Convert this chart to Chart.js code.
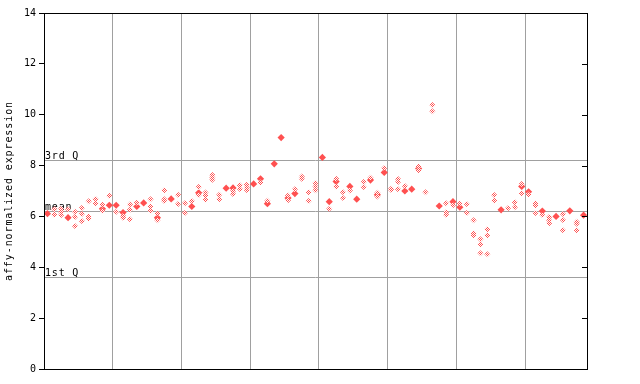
<!DOCTYPE html>
<html>
<head>
<meta charset="utf-8">
<script src="https://cdn.jsdelivr.net/npm/chart.js@4"></script>
<style>
  html, body { margin: 0; padding: 0; background: #fff; }
  #wrap { width: 640px; height: 384px; }
</style>
</head>
<body>
<div id="wrap"><canvas id="chart"></canvas></div>
<script>
// one entry per sample column (x = index + 0.5)
const solidVals = [
  6.11, null, null, 5.95, null, null, null, null, 6.3, 6.44,
  6.44, 6.15, null, 6.39, 6.53, null, 5.95, null, 6.69, null,
  null, 6.39, 6.93, null, null, null, 7.11, 7.12, null, null,
  7.28, 7.48, 6.5, 8.07, 9.1, 6.72, 6.9, null, null, null,
  8.32, 6.58, 7.37, null, 7.18, 6.68, null, 7.43, 6.85, 7.73,
  null, null, 7.0, 7.07, 7.88, null, null, 6.41, null, 6.58,
  6.36, null, null, null, null, null, 6.26, null, null, 7.18,
  6.97, null, 6.21, null, 6.0, null, 6.22, null, 6.05
];
const repVals = [
  [], [6.28, 6.07], [6.3, 6.17, 6.06], [6.28], [6.18, 5.98, 5.62],
  [6.33, 6.1, 5.82], [6.6, 6.0, 5.92], [6.69, 6.52], [6.46, 6.22], [6.81],
  [6.18], [6.02, 5.95], [6.47, 6.26, 5.89], [6.54], [],
  [6.68, 6.39, 6.22], [6.12, 5.85], [7.03, 6.68, 6.61], [], [6.85, 6.49],
  [6.52, 6.13], [6.61], [7.16, 6.84], [6.94, 6.82, 6.66], [7.63, 7.53, 7.44],
  [6.85, 6.68], [], [7.0, 6.88], [7.23, 7.08], [7.25, 7.14, 7.04],
  [], [7.33], [6.62], [], [],
  [6.82, 6.64], [7.07], [7.57, 7.48], [6.95, 6.61], [7.31, 7.18, 7.03],
  [], [6.3], [7.48, 7.18], [6.95, 6.72], [7.02],
  [], [7.35, 7.16], [7.52], [6.93, 6.78], [7.9],
  [7.09, 7.04], [7.47, 7.35, 7.07], [7.2], [], [7.96, 7.82],
  [6.95], [10.38, 10.14], [], [6.52, 6.16, 6.07], [6.44],
  [6.51], [6.49, 6.13], [5.85, 5.34, 5.26], [5.1, 4.91, 4.55], [5.5, 5.26, 4.51],
  [6.84, 6.63], [], [6.32], [6.56, 6.36], [7.28, 6.91],
  [6.86], [6.52, 6.44, 6.13], [6.06], [5.98, 5.85, 5.73], [],
  [6.1, 5.86, 5.46], [], [5.79, 5.71, 5.46], []
];
const yTicks = [0, 2, 4, 6, 8, 10, 12, 14];
const xGrid = [10, 20, 30, 40, 50, 60, 70];
const refLines = [
  { label: '3rd Q', value: 8.21 },
  { label: 'mean', value: 6.21 },
  { label: '1st Q', value: 3.62 }
];

const red = '#ff5050';
const mono = '"DejaVu Sans Mono", monospace';

const canvas = document.getElementById('chart');
const ctx = canvas.getContext('2d');

// checkered fill for single-sample diamonds
const pc = document.createElement('canvas');
pc.width = 2; pc.height = 2;
const pctx = pc.getContext('2d');
pctx.fillStyle = '#fff';
pctx.fillRect(0, 0, 2, 2);
pctx.fillStyle = red;
pctx.fillRect(0, 0, 1, 1);
pctx.fillRect(1, 1, 1, 1);
const checker = ctx.createPattern(pc, 'repeat');

const repPoints = [];
repVals.forEach((vals, i) => vals.forEach(v => repPoints.push({ x: i + 0.5, y: v })));
const solidPoints = [];
solidVals.forEach((v, i) => { if (v !== null) solidPoints.push({ x: i + 0.5, y: v }); });

const frame = {
  id: 'frame',
  beforeDatasetsDraw(chart) {
    const c = chart.ctx, a = chart.chartArea, y = chart.scales.y;
    c.save();
    c.strokeStyle = '#a0a0a0';
    c.lineWidth = 1;
    refLines.forEach(r => {
      const py = Math.round(y.getPixelForValue(r.value)) + 0.5;
      c.beginPath(); c.moveTo(a.left, py); c.lineTo(a.right, py); c.stroke();
    });
    c.fillStyle = '#000';
    c.font = '10px ' + mono;
    c.letterSpacing = '0.8px';
    c.textBaseline = 'alphabetic';
    refLines.forEach(r => {
      const py = Math.round(y.getPixelForValue(r.value));
      c.fillText(r.label, a.left + 1, py - 1);
    });
    c.restore();
  },
  afterDraw(chart) {
    const c = chart.ctx, a = chart.chartArea, y = chart.scales.y;
    c.save();
    c.strokeStyle = '#000';
    c.lineWidth = 1;
    c.strokeRect(Math.round(a.left) + 0.5, Math.round(a.top) + 0.5,
      Math.round(a.right - a.left), Math.round(a.bottom - a.top));
    yTicks.forEach(v => {
      const py = Math.round(y.getPixelForValue(v)) + 0.5;
      c.beginPath(); c.moveTo(a.right - 5, py); c.lineTo(a.right, py); c.stroke();
    });
    c.fillStyle = '#000';
    c.font = '10px ' + mono;
    c.letterSpacing = '0.9px';
    c.translate(14, (a.top + a.bottom) / 2);
    c.rotate(-Math.PI / 2);
    c.textAlign = 'center';
    c.textBaseline = 'bottom';
    c.fillText('affy-normalized expression', 0, 0);
    c.restore();
  }
};

new Chart(ctx, {
  type: 'scatter',
  data: {
    datasets: [{
      data: repPoints,
      pointStyle: 'rectRot',
      pointRadius: 3,
      borderWidth: 0,
      backgroundColor: checker
    }, {
      data: solidPoints,
      pointStyle: 'rectRot',
      pointRadius: 3.6,
      borderWidth: 0,
      backgroundColor: red
    }]
  },
  options: {
    responsive: true,
    maintainAspectRatio: false,
    animation: false,
    layout: { padding: { top: 13, right: 53, left: 0, bottom: 0 } },
    plugins: { legend: { display: false }, tooltip: { enabled: false } },
    scales: {
      x: {
        type: 'linear',
        min: 0,
        max: 79,
        afterBuildTicks: s => { s.ticks = xGrid.map(v => ({ value: v })); },
        afterFit: s => { s.height = 15; },
        ticks: { display: false },
        border: { display: false },
        grid: { color: '#a0a0a0', drawTicks: false }
      },
      y: {
        min: 0,
        max: 14,
        afterBuildTicks: s => { s.ticks = yTicks.map(v => ({ value: v })); },
        afterFit: s => { s.width = 44; },
        ticks: { color: '#000', font: { family: mono, size: 10 }, padding: 3 },
        border: { display: false },
        grid: { drawOnChartArea: false, drawTicks: true, tickLength: 5, color: '#000' }
      }
    }
  },
  plugins: [frame]
});
</script>
</body>
</html>
